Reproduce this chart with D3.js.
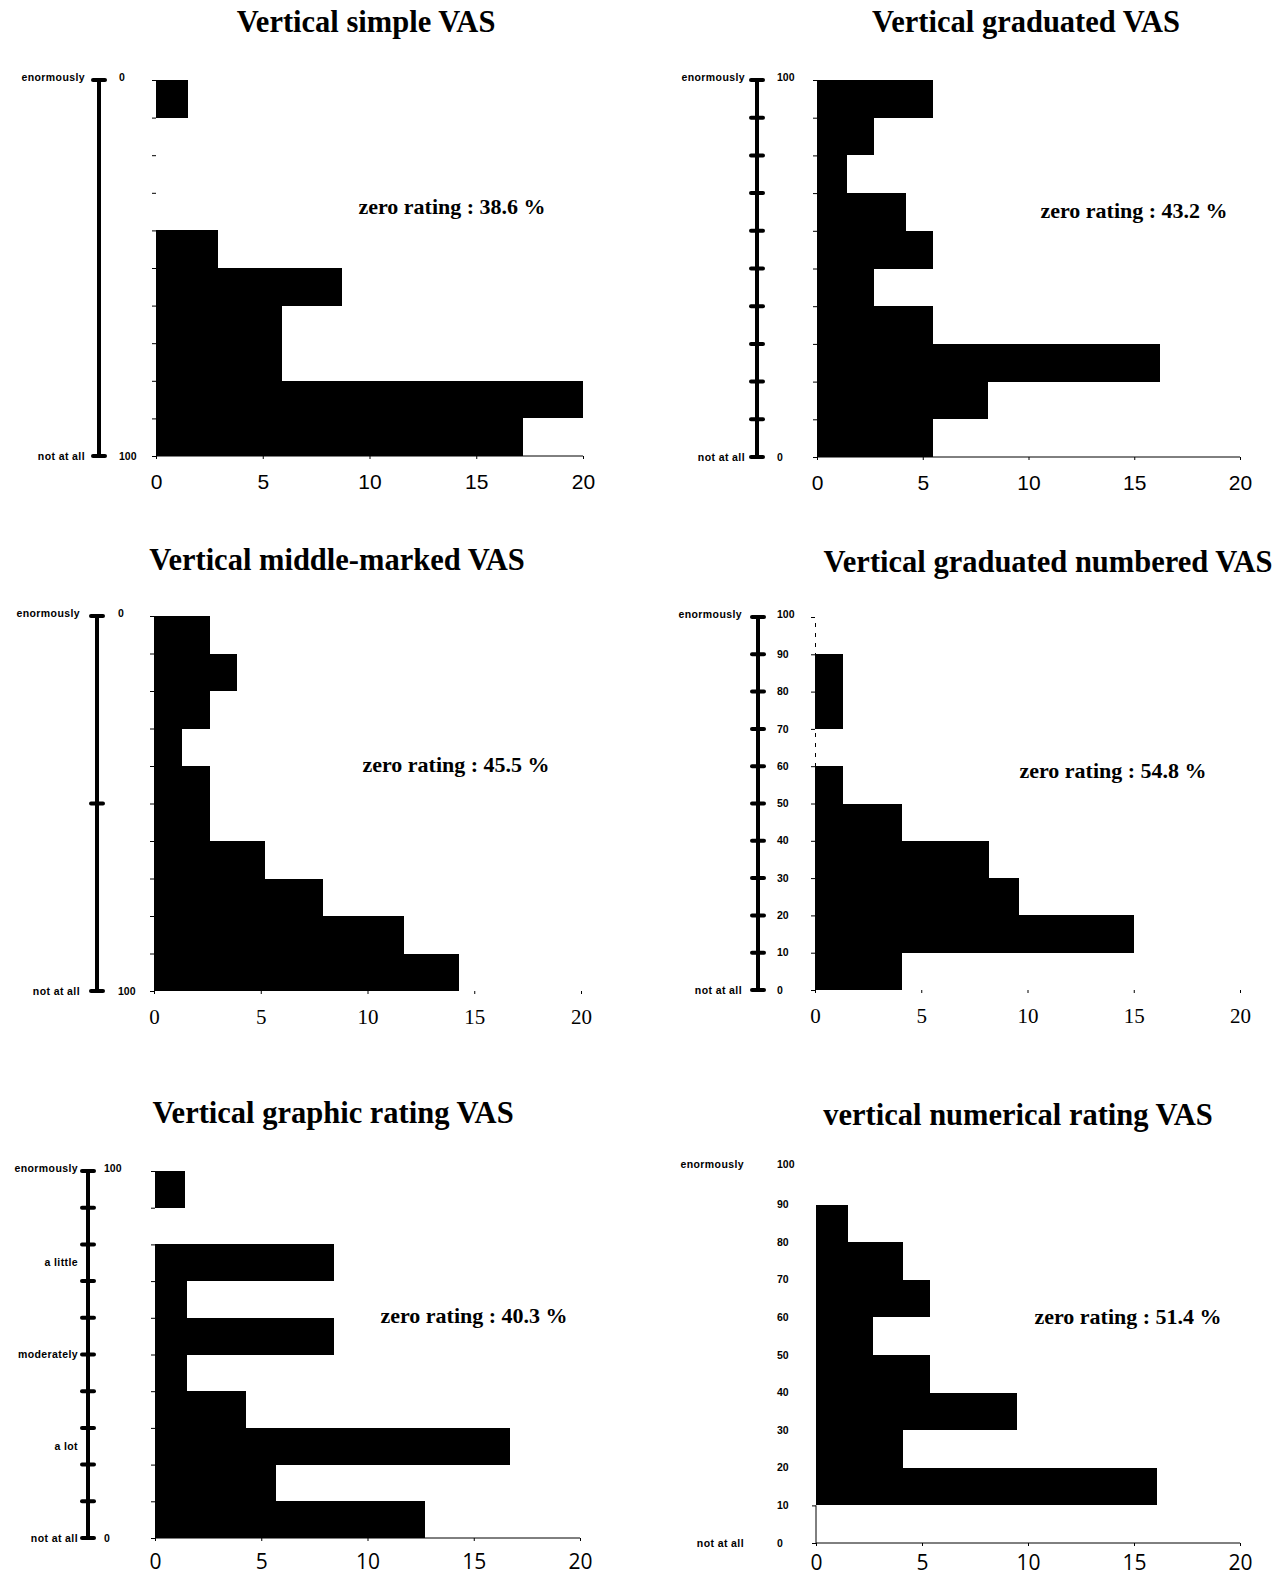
<!DOCTYPE html>
<html>
<head>
<meta charset="utf-8">
<script src="https://cdn.jsdelivr.net/npm/d3@7"></script>
<style>
  body { margin: 0; background: #fff; }
  svg { display: block; }
</style>
</head>
<body>
<svg id="chart" width="1286" height="1579"></svg>
<script>

// ---- data (percent of subjects per 10-point bin, top bin first) ----
const titles = ["Vertical simple VAS", "Vertical graduated VAS", "Vertical middle-marked VAS",
                "Vertical graduated numbered VAS", "Vertical graphic rating VAS", "vertical numerical rating VAS"];
const zeroRatings = ["38.6", "43.2", "45.5", "54.8", "40.3", "51.4"];

const binEdges = [100, 90, 80, 70, 60, 50, 40, 30, 20, 10, 0];

const simpleVals    = [1.5, 0, 0, 0, 2.9, 8.7, 5.9, 5.9, 20.0, 17.2];
const graduatedVals = [5.5, 2.7, 1.4, 4.2, 5.5, 2.7, 5.5, 16.2, 8.1, 5.5];
const middleVals    = [2.6, 3.9, 2.6, 1.3, 2.6, 2.6, 5.2, 7.9, 11.7, 14.3];
const numberedVals  = [0, 1.3, 1.3, 0, 1.3, 4.1, 8.2, 9.6, 15.0, 4.1];
const graphicVals   = [1.4, 0, 8.4, 1.5, 8.4, 1.5, 4.3, 16.7, 5.7, 12.7];
const numericalVals = [0, 1.5, 4.1, 5.4, 2.7, 5.4, 9.5, 4.1, 16.1, 0];

const xTicks = [0, 5, 10, 15, 20];

// scale wording on the left of each chart
const endWords = ["enormously", "not at all"];
const endPos = [100, 0];
const reversedEnds = ["0", "100"];
const plainEnds = ["100", "0"];
const middleTicks = [100, 50, 0];
const tensLabels = ["100", "90", "80", "70", "60", "50", "40", "30", "20", "10", "0"];
const graphicWords = ["enormously", "a little", "moderately", "a lot", "not at all"];
const graphicPos = [100, 75, 50, 25, 0];


const svg = d3.select("#chart");

// layout of the six panels
const panels = [
  { title: titles[0], vals: simpleVals, zero: zeroRatings[0],
    x0: 156, x1: 583, y0: 80, y1: 456, tx: 366, ty: 32, zx: 452, zy: 214,
    tickFont: "Liberation Sans", xLine: true, pad: 15,
    scaleX: 99, scaleTicks: endPos, words: endWords, wordPos: endPos, wordX: 85,
    nums: reversedEnds, numPos: endPos, numX: 119 },
  { title: titles[1], vals: graduatedVals, zero: zeroRatings[1],
    x0: 817, x1: 1240, y0: 80, y1: 457, tx: 1026, ty: 32, zx: 1134, zy: 218,
    tickFont: "Liberation Sans", xLine: true, pad: 15,
    scaleX: 757, scaleTicks: binEdges, words: endWords, wordPos: endPos, wordX: 745,
    nums: plainEnds, numPos: endPos, numX: 777 },
  { title: titles[2], vals: middleVals, zero: zeroRatings[2],
    x0: 154, x1: 581, y0: 616, y1: 991, tx: 337, ty: 570, zx: 456, zy: 772,
    tickFont: "Liberation Serif", xLine: false, pad: 15,
    scaleX: 97, scaleTicks: middleTicks, words: endWords, wordPos: endPos, wordX: 80,
    nums: reversedEnds, numPos: endPos, numX: 118 },
  { title: titles[3], vals: numberedVals, zero: zeroRatings[3],
    x0: 815, x1: 1240, y0: 617, y1: 990, tx: 1048, ty: 572, zx: 1113, zy: 778,
    tickFont: "Liberation Serif", xLine: false, dashedY: true, pad: 15,
    scaleX: 758, scaleTicks: binEdges, words: endWords, wordPos: endPos, wordX: 742,
    nums: tensLabels, numPos: binEdges, numX: 777 },
  { title: titles[4], vals: graphicVals, zero: zeroRatings[4],
    x0: 155, x1: 580, y0: 1171, y1: 1538, tx: 333, ty: 1123, zx: 474, zy: 1323,
    tickFont: "Open Sans", xLine: true, pad: 13,
    scaleX: 88, scaleTicks: binEdges, words: graphicWords, wordPos: graphicPos, wordX: 78,
    nums: plainEnds, numPos: endPos, numX: 104 },
  { title: titles[5], vals: numericalVals, zero: zeroRatings[5],
    x0: 816, x1: 1240, y0: 1167, y1: 1543, tx: 1018, ty: 1125, zx: 1128, zy: 1324,
    tickFont: "Open Sans", xLine: true, noScale: true, partialY: true, pad: 9,
    scaleX: 758, scaleTicks: [], words: endWords, wordPos: endPos, wordX: 744,
    nums: tensLabels, numPos: binEdges, numX: 777 }
];

panels.forEach(function(p) {
  const g = svg.append("g");

  const x = d3.scaleLinear().domain([0, 20]).range([p.x0, p.x1]);
  const y = d3.scaleLinear().domain([100, 0]).range([p.y0, p.y1]);

  // title
  g.append("text")
    .attr("x", p.tx).attr("y", p.ty)
    .attr("text-anchor", "middle")
    .style("font-family", "Liberation Serif, Times New Roman, serif")
    .style("font-weight", "bold")
    .style("font-size", "30.5px")
    .text(p.title);

  // histogram bars
  const bins = p.vals.map((v, i) => ({ v: v, top: binEdges[i], bottom: binEdges[i + 1] }));
  g.selectAll("rect.bar").data(bins.filter(d => d.v > 0))
    .enter().append("rect")
    .attr("class", "bar")
    .attr("x", x(0))
    .attr("y", d => y(d.top))
    .attr("width", d => x(d.v) - x(0))
    .attr("height", d => y(d.bottom) - y(d.top))
    .style("fill", "#000")
    .style("shape-rendering", "crispEdges");

  // y axis (bin boundaries)
  const yAxis = g.append("g")
    .attr("transform", "translate(" + x(0) + ",0)")
    .call(d3.axisLeft(y).tickValues(p.partialY ? [10, 0] : binEdges).tickSize(4).tickFormat(""));
  yAxis.selectAll(".tick line").style("stroke", "#000");
  if (p.dashedY) {
    yAxis.select(".domain").style("stroke", "#000").style("stroke-dasharray", "4,6");
  } else if (p.partialY) {
    yAxis.select(".domain").attr("d", "M0," + y(10) + "V" + y(0)).style("stroke", "#000");
  } else {
    yAxis.select(".domain").remove();
  }

  // x axis
  const xAxis = g.append("g")
    .attr("transform", "translate(0," + y(0) + ")")
    .call(d3.axisBottom(x).tickValues(xTicks).tickSize(3).tickPadding(p.pad));
  xAxis.selectAll("text")
    .style("font-family", p.tickFont)
    .style("font-size", "21px")
    .style("fill", "#000");
  xAxis.selectAll(".tick line").style("stroke", "#000");
  if (p.xLine) {
    xAxis.select(".domain").attr("d", "M" + x(0) + ",0H" + x(20)).style("stroke", "#000");
  } else {
    xAxis.select(".domain").remove();
  }

  // zero rating annotation
  g.append("text")
    .attr("x", p.zx).attr("y", p.zy)
    .attr("text-anchor", "middle")
    .style("font-family", "Liberation Serif, Times New Roman, serif")
    .style("font-weight", "bold")
    .style("font-size", "22px")
    .text("zero rating : " + p.zero + " %");

  // the VAS line itself
  if (!p.noScale) {
    g.append("line")
      .attr("x1", p.scaleX).attr("x2", p.scaleX)
      .attr("y1", y(100)).attr("y2", y(0))
      .style("stroke", "#000").style("stroke-width", 4);
    g.selectAll("line.vtick").data(p.scaleTicks)
      .enter().append("line")
      .attr("class", "vtick")
      .attr("x1", p.scaleX - 6).attr("x2", p.scaleX + 6)
      .attr("y1", d => y(d)).attr("y2", d => y(d))
      .style("stroke", "#000").style("stroke-width", 4)
      .style("stroke-linecap", "round");
  }

  // verbal anchors
  g.selectAll("text.word").data(p.words)
    .enter().append("text")
    .attr("class", "word")
    .attr("x", p.wordX)
    .attr("y", (d, i) => y(p.wordPos[i]) - (p.wordPos[i] === 100 ? 3 : 0))
    .attr("dy", "0.35em")
    .attr("text-anchor", "end")
    .style("font-family", "Liberation Sans, Arial, sans-serif")
    .style("font-weight", "bold")
    .style("font-size", "10.5px")
    .style("letter-spacing", "0.4px")
    .text(d => d);

  // numbers beside the scale
  g.selectAll("text.num").data(p.nums)
    .enter().append("text")
    .attr("class", "num")
    .attr("x", p.numX)
    .attr("y", (d, i) => y(p.numPos[i]) - (p.numPos[i] === 100 ? 3 : 0))
    .attr("dy", "0.35em")
    .style("font-family", "Liberation Sans, Arial, sans-serif")
    .style("font-weight", "bold")
    .style("font-size", "10.5px")
    .text(d => d);
});

</script>
</body>
</html>
